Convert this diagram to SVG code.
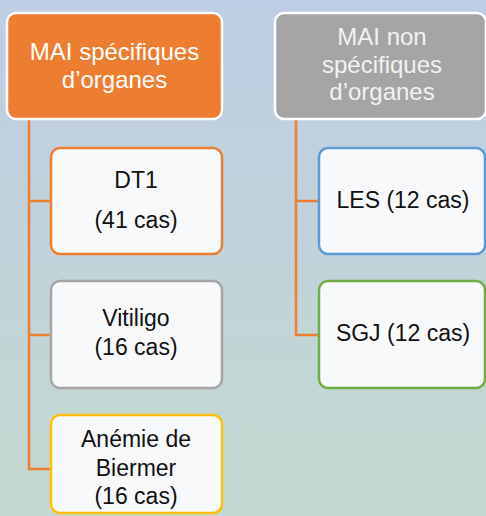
<svg xmlns="http://www.w3.org/2000/svg" width="486" height="516" viewBox="0 0 486 516">
<defs>
<linearGradient id="bg" x1="0" y1="0" x2="0" y2="1">
<stop offset="0" stop-color="#BFCDE4"/>
<stop offset="1" stop-color="#C3D9CF"/>
</linearGradient>
</defs>
<style>
.t{font-family:"Liberation Sans",Arial,sans-serif;font-size:23px;text-anchor:middle;fill:#111}
.h{font-family:"Liberation Sans",Arial,sans-serif;font-size:24px;text-anchor:middle}
.child{fill:#F8F9FB;stroke-width:2.5}
.conn{fill:none;stroke:#ED7D31;stroke-width:2.5}
</style>
<rect width="486" height="516" fill="url(#bg)"/>
<g id="connectors">
<path class="conn" d="M29,119 V469 H51 M29,201 H51 M29,335 H51"/>
<path class="conn" d="M296,119 V335 H319 M296,201 H319"/>
</g>
<g id="hdr-left">
<rect x="7" y="13" width="215" height="106" rx="9" fill="#ED7D31" stroke="#FFFFFF" stroke-width="2.5"/>
<text class="h" x="114.5" y="60" fill="#FFFFFF">MAI spécifiques</text>
<text class="h" x="114.5" y="88" fill="#FFFFFF">d’organes</text>
</g>
<g id="hdr-right">
<rect x="275" y="13" width="211" height="106" rx="9" fill="#A5A5A5" stroke="#FFFFFF" stroke-width="2.5"/>
<text class="h" x="382" y="45" fill="#F2F2F2">MAI non</text>
<text class="h" x="382" y="73" fill="#F2F2F2">spécifiques</text>
<text class="h" x="382" y="100" fill="#F2F2F2">d’organes</text>
</g>
<g id="dt1">
<rect class="child" x="51" y="148" width="171" height="106" rx="9" stroke="#ED7D31"/>
<text class="t" x="136" y="188">DT1</text>
<text class="t" x="136" y="228">(41 cas)</text>
</g>
<g id="vitiligo">
<rect class="child" x="51" y="281" width="171" height="107" rx="9" stroke="#A5A5A5"/>
<text class="t" x="136" y="326">Vitiligo</text>
<text class="t" x="136" y="355">(16 cas)</text>
</g>
<g id="anemie">
<rect class="child" x="51" y="415" width="171" height="98" rx="9" stroke="#FFC000"/>
<text class="t" x="136" y="447">Anémie de</text>
<text class="t" x="136" y="476">Biermer</text>
<text class="t" x="136" y="504">(16 cas)</text>
</g>
<g id="les">
<rect class="child" x="319" y="148" width="166" height="106" rx="9" stroke="#5B9BD5"/>
<text class="t" x="403" y="208">LES (12 cas)</text>
</g>
<g id="sgj">
<rect class="child" x="319" y="281" width="166" height="107" rx="9" stroke="#70AD47"/>
<text class="t" x="403" y="341">SGJ (12 cas)</text>
</g>
</svg>
